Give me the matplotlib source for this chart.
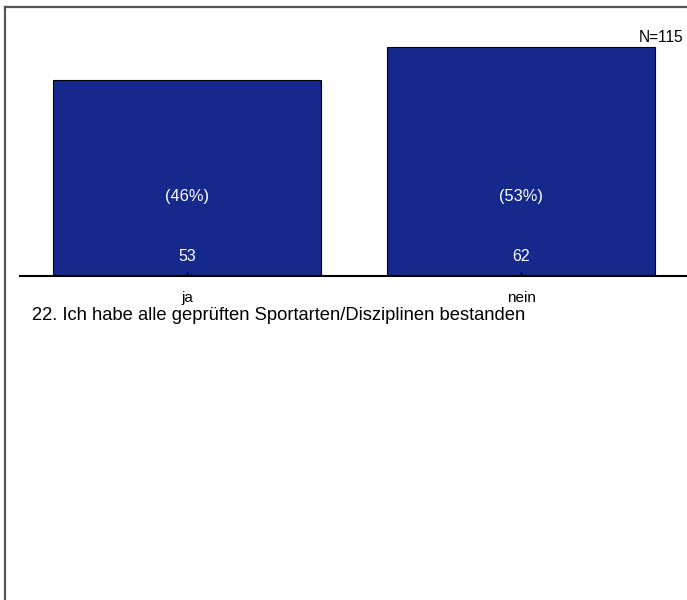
import matplotlib
matplotlib.use("Agg")
import matplotlib.pyplot as plt
from matplotlib.lines import Line2D

# Daten
kategorien = ["ja", "nein"]
anzahl = [53, 62]
prozent = ["(46%)", "(53%)"]
n_gesamt = "N=115"
frage = "22. Ich habe alle geprüften Sportarten/Disziplinen bestanden"

plt.rcParams['font.family'] = ['Liberation Sans', 'DejaVu Sans']

W, H = 687, 600
fig = plt.figure(figsize=(W / 100, H / 100), dpi=100)

# Achse: Basislinie bei y=276px, von x=20px bis zum rechten Rand
ax = fig.add_axes([20 / W, 1 - 276 / H, 1 - 20 / W + 1 / W, 270 / H])
x = list(range(len(kategorien)))
ax.bar(x, anzahl, width=0.8, color='#15288c', edgecolor='black', linewidth=0.8)
ax.set_xlim(-0.5, 1.5)
ax.set_ylim(0, 270 / 3.695)

for i in x:
    ax.text(i, 21.4, prozent[i], color='white', ha='center', va='center', fontsize=11.8)
    ax.text(i, 5.2, str(anzahl[i]), color='white', ha='center', va='center', fontsize=11.5)

for s in ['left', 'right', 'top']:
    ax.spines[s].set_visible(False)
ax.spines['bottom'].set_linewidth(1.5)
ax.set_yticks([])
ax.set_xticks(x)
ax.set_xticklabels(kategorien, fontsize=11)
ax.tick_params(axis='x', direction='in', length=3, width=1, pad=11)
ax.patch.set_alpha(0)

fig.text(683 / W, 1 - 37 / H, n_gesamt, ha='right', va='center', fontsize=11.2)
fig.text(32 / W, 1 - 320 / H, frage, ha='left', va='baseline', fontsize=13.2)

# Rahmen oben und links
fig.add_artist(Line2D([4.5 / W, 1.0], [1 - 6.5 / H, 1 - 6.5 / H], color='#555555', linewidth=1.6, transform=fig.transFigure))
fig.add_artist(Line2D([4.5 / W, 4.5 / W], [0, 1 - 6.5 / H], color='#555555', linewidth=1.6, transform=fig.transFigure))

fig.savefig("out.png", dpi=100)
